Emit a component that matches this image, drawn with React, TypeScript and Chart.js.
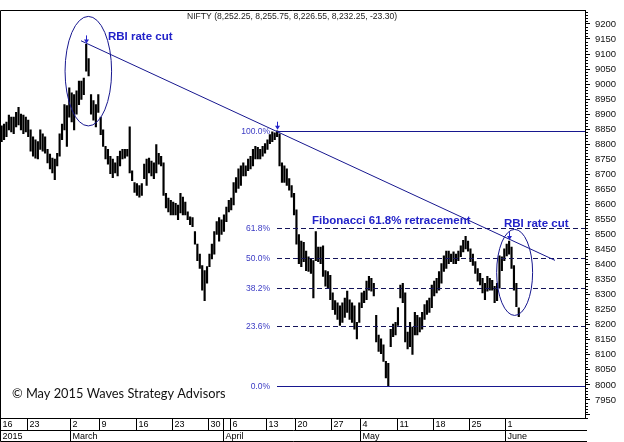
import React, { useEffect, useRef } from "react";
import { Chart, registerables } from "chart.js";

Chart.register(...registerables);

// intraday bars per trading day
const barsPerDay = 3;

// bar highs (216 bars, Feb 16 .. Jun 2)
const barHigh = [
  8867, 8861, 8867, 8874, 8897, 8890, 8890, 8906, 8923, 8900,
  8897, 8890, 8880, 8848, 8825, 8815, 8809, 8848, 8835, 8825,
  8783, 8767, 8754, 8751, 8770, 8835, 8867, 8932, 8929, 8988,
  8971, 8965, 8978, 9010, 9010, 9020, 9132, 9085, 8965, 8945,
  8932, 8965, 8890, 8848, 8793, 8783, 8760, 8751, 8738, 8760,
  8777, 8783, 8783, 8783, 8858, 8712, 8673, 8669, 8663, 8669,
  8734, 8751, 8754, 8744, 8738, 8799, 8770, 8760, 8738, 8637,
  8621, 8614, 8608, 8604, 8598, 8637, 8624, 8608, 8575, 8559,
  8556, 8510, 8468, 8435, 8397, 8380, 8393, 8435, 8468, 8510,
  8543, 8556, 8549, 8565, 8591, 8614, 8621, 8673, 8689, 8718,
  8728, 8738, 8728, 8751, 8760, 8783, 8793, 8790, 8783, 8793,
  8802, 8815, 8832, 8841, 8838, 8845, 8835, 8738, 8728, 8718,
  8686, 8663, 8637, 8582, 8500, 8478, 8474, 8445, 8426, 8419,
  8413, 8510, 8458, 8458, 8462, 8380, 8377, 8364, 8306, 8280,
  8273, 8263, 8273, 8289, 8312, 8283, 8273, 8263, 8208, 8273,
  8306, 8312, 8345, 8361, 8354, 8338, 8231, 8166, 8153, 8133,
  8078, 8072, 8185, 8202, 8208, 8257, 8332, 8338, 8306, 8176,
  8208, 8192, 8241, 8231, 8224, 8241, 8267, 8280, 8289, 8332,
  8345, 8354, 8377, 8403, 8429, 8445, 8445, 8435, 8442, 8435,
  8445, 8462, 8481, 8494, 8478, 8452, 8435, 8410, 8387, 8371,
  8354, 8338, 8361, 8354, 8348, 8328, 8338, 8429, 8426, 8452,
  8468, 8478, 8458, 8397, 8338, 8256,
];

// bar lows
const barLow = [
  8809, 8809, 8815, 8825, 8848, 8841, 8835, 8858, 8864, 8848,
  8835, 8841, 8825, 8777, 8760, 8754, 8751, 8783, 8777, 8770,
  8738, 8718, 8705, 8682, 8728, 8760, 8815, 8848, 8793, 8890,
  8874, 8848, 8900, 8932, 8949, 8965, 9043, 9027, 8900, 8880,
  8858, 8906, 8832, 8793, 8751, 8734, 8702, 8689, 8705, 8695,
  8728, 8751, 8754, 8760, 8705, 8679, 8640, 8630, 8624, 8630,
  8686, 8663, 8705, 8695, 8686, 8705, 8734, 8728, 8630, 8588,
  8575, 8565, 8565, 8565, 8549, 8572, 8565, 8565, 8549, 8533,
  8526, 8468, 8413, 8387, 8315, 8280, 8338, 8393, 8419, 8435,
  8500, 8478, 8500, 8510, 8543, 8575, 8582, 8598, 8640, 8653,
  8663, 8695, 8695, 8712, 8718, 8728, 8751, 8751, 8751, 8760,
  8770, 8783, 8802, 8809, 8815, 8825, 8728, 8673, 8673, 8663,
  8647, 8624, 8565, 8468, 8403, 8393, 8410, 8380, 8377, 8371,
  8289, 8413, 8410, 8403, 8361, 8328, 8322, 8283, 8250, 8234,
  8218, 8198, 8208, 8224, 8241, 8218, 8208, 8185, 8153, 8208,
  8257, 8273, 8283, 8315, 8312, 8296, 8143, 8111, 8104, 8078,
  8023, 7997, 8127, 8160, 8166, 8198, 8289, 8273, 8143, 8120,
  8127, 8101, 8166, 8166, 8176, 8185, 8218, 8234, 8241, 8257,
  8296, 8306, 8315, 8338, 8377, 8387, 8403, 8410, 8403, 8403,
  8413, 8426, 8442, 8452, 8445, 8410, 8397, 8371, 8345, 8332,
  8306, 8283, 8312, 8315, 8315, 8273, 8280, 8322, 8380, 8413,
  8429, 8435, 8387, 8315, 8260, 8227,
];

// date axis: week start labels and the trading-day index where they begin
const weekLabels = ["16", "23", "2", "9", "16", "23", "30", "6", "13", "20", "27", "4", "11", "18", "25", "1"];
const weekStartDay = [0, 4, 10, 14, 19, 24, 29, 32, 37, 41, 46, 50, 55, 60, 65, 70];
const monthLabels = ["2015", "March", "April", "May", "June"];
const monthStartDay = [0, 10, 31, 50, 70];

// y axis labels
const yTickFrom = 7950;
const yTickTo = 9200;

// fibonacci retracement
const fibHigh = 8844.8;
const fibLow = 7997.15;
const fibRatios = [1, 0.618, 0.5, 0.382, 0.236, 0];
const fibLabels = ["100.0%", "61.8%", "50.0%", "38.2%", "23.6%", "0.0%"];
const fibStartBar = 115;

// trend line (day index, price)
const trendDays = [11.45, 76.83];
const trendPrices = [9144, 8414];

// RBI rate cut peaks
const arrowBars = [36, 115, 211];
const ellipseDays = [12.46, 71.26];
const ellipsePrices = [9043, 8374];
const ellipseRxDays = [3.21, 2.48];
const ellipseRyPrices = [182, 143];

const notes = ["RBI rate cut", "RBI rate cut", "Fibonacci 61.8% retracement"];
const noteDays = [15.17, 69.79, 43.31];
const notePrices = [9157, 8535, 8545];

const lastBar = ["8,252.25", "8,255.75", "8,226.55", "8,232.25", "-23.30"];

const LINE = "#17178f";
const TEXT = "#2323c9";
const SANS = '"Liberation Sans", Arial, sans-serif';

const annotations = {
  id: "annotations",
  afterDatasetsDraw(chart: any) {
    const { ctx, chartArea: a } = chart;
    const xs = chart.scales.x;
    const ys = chart.scales.y;
    const barX = (i: number) => xs.getPixelForValue((i + 0.5) / barsPerDay);
    ctx.save();
    ctx.beginPath();
    ctx.rect(a.left, a.top, a.right - a.left, a.bottom - a.top);
    ctx.clip();

    // fib levels
    const x0 = Math.round(barX(fibStartBar));
    fibRatios.forEach((r, i) => {
      const y = Math.round(ys.getPixelForValue(fibLow + (fibHigh - fibLow) * r)) + 0.5;
      const solid = r === 1 || r === 0;
      ctx.strokeStyle = solid ? LINE : "#14145a";
      ctx.lineWidth = 1;
      ctx.setLineDash(solid ? [] : [5, 3]);
      ctx.beginPath();
      ctx.moveTo(x0, y);
      ctx.lineTo(a.right, y);
      ctx.stroke();
      ctx.setLineDash([]);
      ctx.fillStyle = "#3b3bc4";
      ctx.font = "8.5px " + SANS;
      ctx.textAlign = "right";
      ctx.textBaseline = "middle";
      ctx.fillText(fibLabels[i], x0 - 7, y);
    });

    // trend line
    ctx.strokeStyle = LINE;
    ctx.beginPath();
    ctx.moveTo(xs.getPixelForValue(trendDays[0]), ys.getPixelForValue(trendPrices[0]));
    ctx.lineTo(xs.getPixelForValue(trendDays[1]), ys.getPixelForValue(trendPrices[1]));
    ctx.stroke();

    // ellipses
    ellipseDays.forEach((d, i) => {
      const cx = xs.getPixelForValue(d);
      const cy = ys.getPixelForValue(ellipsePrices[i]);
      const rx = xs.getPixelForValue(d + ellipseRxDays[i]) - cx;
      const ry = cy - ys.getPixelForValue(ellipsePrices[i] + ellipseRyPrices[i]);
      ctx.beginPath();
      ctx.ellipse(cx, cy, rx, ry, 0, 0, Math.PI * 2);
      ctx.stroke();
    });

    // arrows on the peaks
    ctx.fillStyle = TEXT;
    ctx.strokeStyle = TEXT;
    arrowBars.forEach((b) => {
      const x = Math.round(barX(b)) + 0.5;
      const tip = ys.getPixelForValue(barHigh[b]) - 1;
      ctx.beginPath();
      ctx.moveTo(x, tip - 8);
      ctx.lineTo(x, tip - 3);
      ctx.stroke();
      ctx.beginPath();
      ctx.moveTo(x - 2.5, tip - 4);
      ctx.lineTo(x + 2.5, tip - 4);
      ctx.lineTo(x, tip);
      ctx.closePath();
      ctx.fill();
    });

    // notes
    ctx.font = "bold 11.5px " + SANS;
    ctx.textAlign = "left";
    ctx.textBaseline = "middle";
    notes.forEach((t, i) => {
      ctx.fillText(t, xs.getPixelForValue(noteDays[i]), ys.getPixelForValue(notePrices[i]));
    });

    // title and copyright
    ctx.fillStyle = "#222";
    ctx.font = "8.6px " + SANS;
    ctx.fillText("NIFTY (" + lastBar.join(", ") + ")", a.left + 186, a.top + 6);
    ctx.fillStyle = "#111";
    ctx.font = '12.8px Lato, "Open Sans", sans-serif';
    ctx.textBaseline = "alphabetic";
    ctx.fillText("\u00a9 May 2015 Waves Strategy Advisors", a.left + 11, a.bottom - 20);
    ctx.restore();
  },
};

const frameAndDates = {
  id: "frameAndDates",
  afterDraw(chart: any) {
    const { ctx, chartArea: a } = chart;
    const xs = chart.scales.x;
    const ys = chart.scales.y;
    const left = Math.round(a.left) - 0.5;
    const top = Math.round(a.top) - 0.5;
    const bottom = Math.round(a.bottom) + 0.5;
    const right = Math.round(a.right);
    const row1 = bottom + 12;
    const row2 = bottom + 23;
    ctx.save();
    ctx.strokeStyle = "#000";
    ctx.lineWidth = 1;
    ctx.beginPath();
    ctx.moveTo(left, top);
    ctx.lineTo(right, top);
    ctx.moveTo(left, top);
    ctx.lineTo(left, row2);
    ctx.moveTo(left, bottom);
    ctx.lineTo(right + 2, bottom);
    ctx.moveTo(left, row1);
    ctx.lineTo(right + 2, row1);
    ctx.moveTo(left, row2);
    ctx.lineTo(right + 2, row2);

    // minor ticks on the price axis
    for (let v = Math.ceil(ys.min / 10) * 10; v <= ys.max; v += 10) {
      if (v % 50 === 0) continue;
      const y = Math.round(ys.getPixelForValue(v)) + 0.5;
      ctx.moveTo(right, y);
      ctx.lineTo(right + 3, y);
    }

    const dayPx = (d: number) => Math.round(xs.getPixelForValue(d)) + 0.5;
    [...weekStartDay, ...monthStartDay].forEach((d) => {
      const x = dayPx(d);
      if (x <= left + 1) return;
      ctx.moveTo(x, bottom);
      ctx.lineTo(x, row1);
    });
    monthStartDay.forEach((d) => {
      const x = dayPx(d);
      if (x <= left + 1) return;
      ctx.moveTo(x, row1);
      ctx.lineTo(x, row2);
    });
    ctx.stroke();

    ctx.fillStyle = "#000";
    ctx.font = "9px " + SANS;
    ctx.textAlign = "left";
    ctx.textBaseline = "middle";
    weekLabels.forEach((t, i) => {
      ctx.fillText(t, Math.max(left, dayPx(weekStartDay[i])) + 2, bottom + 6.5);
    });
    monthLabels.forEach((t, i) => {
      ctx.fillText(t, Math.max(left, dayPx(monthStartDay[i])) + 2, row1 + 6);
    });
    ctx.restore();
  },
};

const App: React.FC = () => {
  const canvasRef = useRef<HTMLCanvasElement>(null);

  useEffect(() => {
    if (!canvasRef.current) return;
    const points = barHigh.map((h, i) => ({ x: (i + 0.5) / barsPerDay, y: [barLow[i], h] }));

    const chart = new Chart(canvasRef.current, {
      type: "bar",
      data: {
        datasets: [
          {
            data: points as any,
            backgroundColor: "#000",
            borderWidth: 0,
            barThickness: 1.5,
          },
        ],
      },
      options: {
        animation: false,
        responsive: false,
        layout: { padding: { left: 1, top: 1, right: 0, bottom: 24 } },
        plugins: { legend: { display: false }, tooltip: { enabled: false } },
        scales: {
          x: { type: "linear", display: false, min: 0.414, max: 80.966, offset: false },
          y: {
            position: "right",
            min: 7890,
            max: 9244,
            afterFit: (s: any) => {
              s.width = 39;
            },
            afterBuildTicks: (s: any) => {
              const t = [];
              for (let v = 7900; v <= yTickTo; v += 50) t.push({ value: v });
              s.ticks = t;
            },
            ticks: {
              autoSkip: false,
              padding: 5,
              color: "#111",
              font: { family: SANS, size: 9.5 },
              callback: (v: any) => (v >= yTickFrom ? String(v) : ""),
            },
            grid: { drawOnChartArea: false, tickLength: 5, tickColor: "#000" },
            border: { color: "#000" },
          },
        },
      },
      plugins: [annotations, frameAndDates],
    });

    return () => chart.destroy();
  }, []);

  return (
    <div style={{ position: "fixed", left: 0, top: 0, width: 624, height: 442, background: "#fff" }}>
      <canvas ref={canvasRef} width={624} height={442} style={{ display: "block" }} />
    </div>
  );
};

export default App;
